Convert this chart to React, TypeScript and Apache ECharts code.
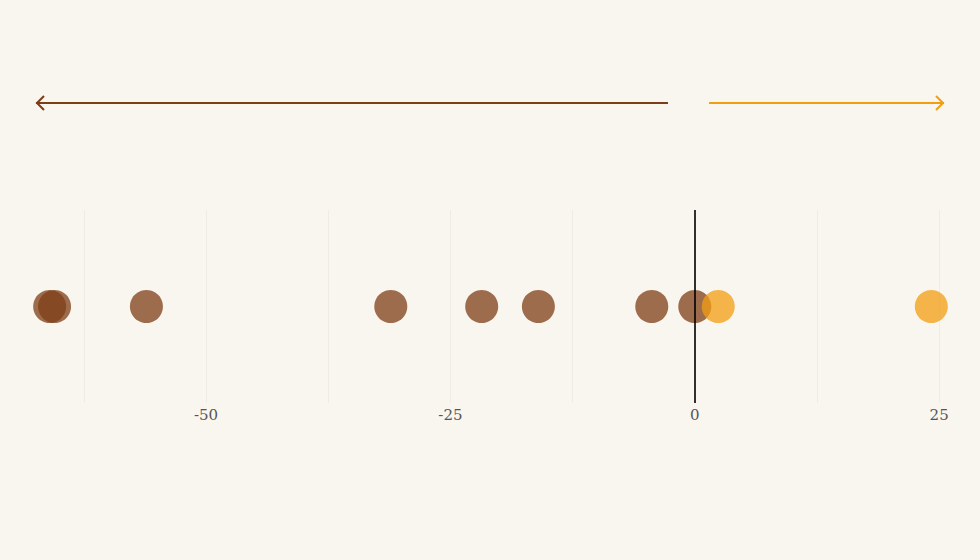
import React, { useEffect, useRef } from "react";
import * as echarts from "echarts";

const negativeValues: number[] = [-66.0, -65.5, -56.1, -31.1, -21.8, -16.0, -4.4, 0.0];
const positiveValues: number[] = [2.4, 24.2];
const gridValues: number[] = [-62.5, -50, -37.5, -25, -12.5, 0, 12.5, 25];
const labelValues: number[] = [-50, -25, 0, 25];

const BG = "#f9f6ef";
const BROWN = "#7d3d16";
const ORANGE = "#f39d12";

export default function App() {
  const ref = useRef<HTMLDivElement>(null);
  useEffect(() => {
    document.body.style.margin = "0";
    if (!ref.current) return;
    const chart = echarts.init(ref.current, undefined, { renderer: "svg" });
    chart.setOption({
      animation: false,
      backgroundColor: BG,
      textStyle: { fontFamily: "DejaVu Serif" },
      grid: { left: 35, right: 35, top: 210, height: 193 },
      xAxis: {
        type: "value",
        min: -67.5,
        max: 25.6,
        axisLine: { show: false },
        axisTick: { show: false, customValues: gridValues },
        axisLabel: {
          customValues: labelValues,
          color: "#555",
          fontSize: 15,
          fontFamily: "DejaVu Serif",
          margin: 4,
        },
        splitLine: { show: true, lineStyle: { color: "#efece6", width: 1 } },
      },
      yAxis: {
        type: "value",
        min: -1,
        max: 1,
        show: false,
      },
      graphic: [
        {
          type: "line",
          shape: { x1: 36, y1: 103, x2: 668, y2: 103 },
          style: { stroke: BROWN, lineWidth: 2 },
        },
        {
          type: "polyline",
          shape: { points: [[44, 96], [37, 103], [44, 110]] },
          style: { stroke: BROWN, lineWidth: 2, fill: "none" },
        },
        {
          type: "line",
          shape: { x1: 709, y1: 103, x2: 944, y2: 103 },
          style: { stroke: ORANGE, lineWidth: 2 },
        },
        {
          type: "polyline",
          shape: { points: [[936, 96], [943, 103], [936, 110]] },
          style: { stroke: ORANGE, lineWidth: 2, fill: "none" },
        },
      ],
      series: [
        {
          type: "scatter",
          symbolSize: 33,
          itemStyle: { color: BROWN, opacity: 0.75 },
          data: negativeValues.map((v) => [v, 0]),
          markLine: {
            silent: true,
            symbol: "none",
            label: { show: false },
            lineStyle: { color: "#000", width: 1.6, type: "solid" },
            data: [{ xAxis: 0 }],
            z: 10,
          },
        },
        {
          type: "scatter",
          symbolSize: 33,
          itemStyle: { color: ORANGE, opacity: 0.75 },
          data: positiveValues.map((v) => [v, 0]),
        },
      ],
    });
    return () => chart.dispose();
  }, []);
  return <div ref={ref} style={{ width: 980, height: 560 }} />;
}
